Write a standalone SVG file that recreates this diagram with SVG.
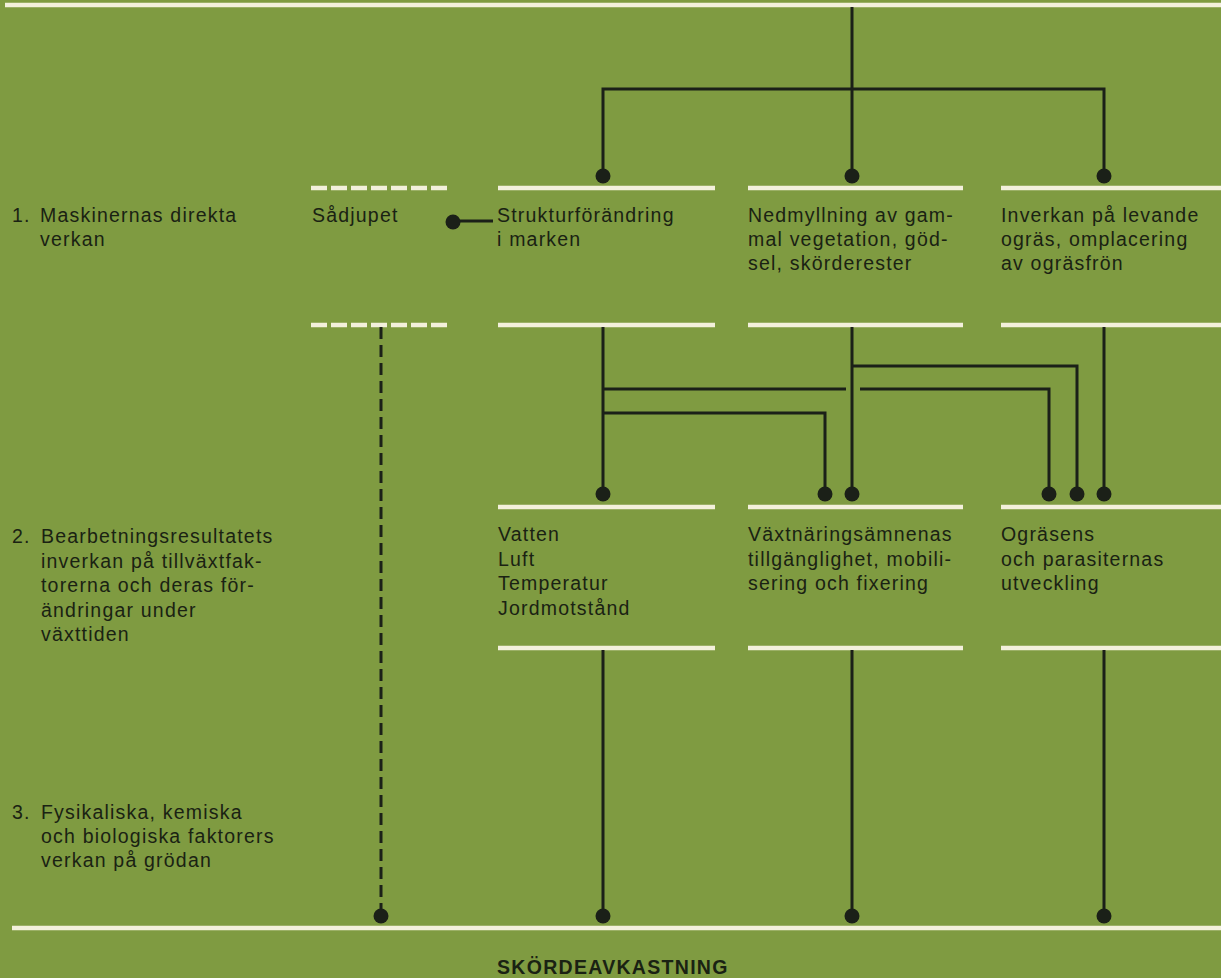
<svg xmlns="http://www.w3.org/2000/svg" width="1221" height="978" viewBox="0 0 1221 978">
<defs>
<style>
.bg{fill:#7f9b41}
.bar{stroke:#f3f0dc;stroke-width:4.5;fill:none}
.dbar{stroke:#f3f0dc;stroke-width:4.5;fill:none;stroke-dasharray:16 4}
.ln{stroke:#1b2018;stroke-width:3;fill:none}
.dln{stroke:#1b2018;stroke-width:3;fill:none;stroke-dasharray:12 6}
.dot{fill:#1b2018}
text{font-family:"Liberation Sans",Arial,sans-serif;font-size:19.5px;letter-spacing:1.2px;fill:#1a2213}
.title{font-weight:bold;font-size:19.5px;letter-spacing:1.3px}
</style>
</defs>
<rect class="bg" x="0" y="0" width="1221" height="978"/>

<g id="top">
<line class="bar" x1="5" y1="5" x2="1221" y2="5"/>
</g>

<g id="levels">
<text x="12" y="222">1.</text>
<text x="40" y="222">Maskinernas direkta</text>
<text x="40" y="246">verkan</text>
<text x="12" y="543">2.</text>
<text x="41" y="543">Bearbetningsresultatets</text>
<text x="41" y="567.6">inverkan på tillväxtfak-</text>
<text x="41" y="592.2">torerna och deras för-</text>
<text x="41" y="616.8">ändringar under</text>
<text x="41" y="641.4">växttiden</text>
<text x="12" y="819">3.</text>
<text x="41" y="819">Fysikaliska, kemiska</text>
<text x="41" y="843">och biologiska faktorers</text>
<text x="41" y="867">verkan på grödan</text>
</g>

<g id="sadjupet">
<line class="dbar" x1="311" y1="188" x2="450" y2="188"/>
<line class="dbar" x1="311" y1="325" x2="450" y2="325"/>
<text x="312" y="222">Sådjupet</text>
</g>

<g id="struktur">
<line class="bar" x1="498" y1="188" x2="715" y2="188"/>
<line class="bar" x1="498" y1="325" x2="715" y2="325"/>
<text x="497" y="222">Strukturförändring</text>
<text x="497" y="246">i marken</text>
</g>

<g id="nedmyllning">
<line class="bar" x1="748" y1="188" x2="963" y2="188"/>
<line class="bar" x1="748" y1="325" x2="963" y2="325"/>
<text x="748" y="222">Nedmyllning av gam-</text>
<text x="748" y="246">mal vegetation, göd-</text>
<text x="748" y="270">sel, skörderester</text>
</g>

<g id="inverkan">
<line class="bar" x1="1001" y1="188" x2="1221" y2="188"/>
<line class="bar" x1="1001" y1="325" x2="1221" y2="325"/>
<text x="1001" y="222">Inverkan på levande</text>
<text x="1001" y="246">ogräs, omplacering</text>
<text x="1001" y="270">av ogräsfrön</text>
</g>

<g id="vatten">
<line class="bar" x1="498" y1="507" x2="715" y2="507"/>
<line class="bar" x1="498" y1="648" x2="715" y2="648"/>
<text x="498" y="541">Vatten</text>
<text x="498" y="565.5">Luft</text>
<text x="498" y="590">Temperatur</text>
<text x="498" y="614.5">Jordmotstånd</text>
</g>

<g id="vaxtnaring">
<line class="bar" x1="748" y1="507" x2="963" y2="507"/>
<line class="bar" x1="748" y1="648" x2="963" y2="648"/>
<text x="748" y="541">Växtnäringsämnenas</text>
<text x="748" y="565.5">tillgänglighet, mobili-</text>
<text x="748" y="590">sering och fixering</text>
</g>

<g id="ograsens">
<line class="bar" x1="1001" y1="507" x2="1221" y2="507"/>
<line class="bar" x1="1001" y1="648" x2="1221" y2="648"/>
<text x="1001" y="541">Ogräsens</text>
<text x="1001" y="565.5">och parasiternas</text>
<text x="1001" y="590">utveckling</text>
</g>

<g id="skordeavkastning">
<line class="bar" x1="12" y1="928" x2="1221" y2="928"/>
<text class="title" x="497" y="974">SKÖRDEAVKASTNING</text>
</g>

<g id="connectors">
<path class="ln" d="M852 7 V89 M603 176 V89 H1104 V176 M852 89 V176"/>
<circle class="dot" cx="603" cy="176" r="7.5"/>
<circle class="dot" cx="852" cy="176" r="7.5"/>
<circle class="dot" cx="1104" cy="176" r="7.5"/>
<path class="ln" d="M453 221 H493"/>
<circle class="dot" cx="453" cy="222" r="7.5"/>
<path class="ln" d="M603 327 V494 M603 389 H846 M860 389 H1049 V494 M603 413 H825 V494 M852 327 V494 M852 366 H1077 V494 M1104 327 V494"/>
<circle class="dot" cx="603" cy="494" r="7.5"/>
<circle class="dot" cx="825" cy="494" r="7.5"/>
<circle class="dot" cx="852" cy="494" r="7.5"/>
<circle class="dot" cx="1049" cy="494" r="7.5"/>
<circle class="dot" cx="1077" cy="494" r="7.5"/>
<circle class="dot" cx="1104" cy="494" r="7.5"/>
<path class="dln" d="M381 327 V916"/>
<path class="ln" d="M603 650 V916 M852 650 V916 M1104 650 V916"/>
<circle class="dot" cx="381" cy="916" r="7.5"/>
<circle class="dot" cx="603" cy="916" r="7.5"/>
<circle class="dot" cx="852" cy="916" r="7.5"/>
<circle class="dot" cx="1104" cy="916" r="7.5"/>
</g>
</svg>
